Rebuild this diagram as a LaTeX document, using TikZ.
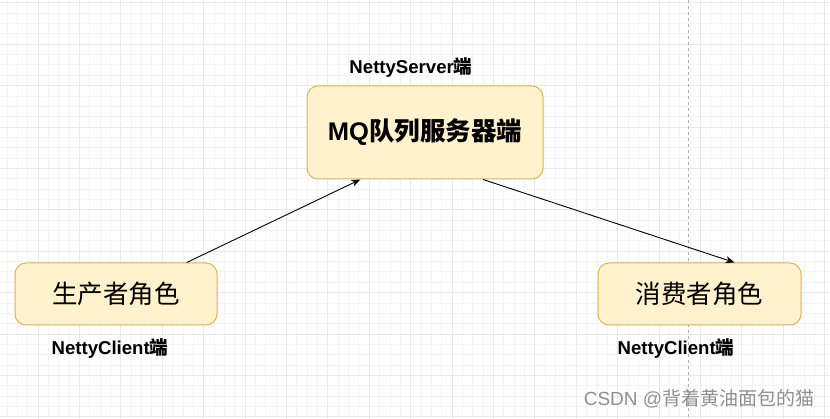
\documentclass[tikz,border=0pt]{standalone}
\usepackage{fontspec}
\setmainfont{Liberation Sans}
\newfontfamily\cjk{Noto Sans CJK SC}
\usetikzlibrary{arrows.meta}
\definecolor{boxfill}{HTML}{FFF2CC}
\definecolor{boxline}{HTML}{D6B656}
\definecolor{gridminor}{HTML}{F4F4F4}
\definecolor{gridmajor}{HTML}{E8E8E8}
\definecolor{guide}{HTML}{B0B0B0}
\definecolor{mark}{HTML}{8F8F8F}
\begin{document}
\begin{tikzpicture}[x=1pt,y=-1pt,
  rolebox/.style={draw=boxline, fill=boxfill, rounded corners=11pt, line width=1pt, inner sep=0pt},
  link/.style={draw=black, line width=0.9pt, -{Stealth[length=9pt,width=7pt]}},
  caption/.style={font=\fontsize{18.6}{21}\selectfont\bfseries, inner sep=0pt}]
\useasboundingbox (0,0) rectangle (830,419);
\fill[white] (0,0) rectangle (830,419);
\begin{scope}
  \clip (0,0) rectangle (830,419);
  \foreach \i in {0,...,82} \draw[gridminor, line width=0.8pt] ({-3.4+10.35*\i},0) -- ++(0,419);
  \foreach \j in {0,...,41} \draw[gridminor, line width=0.8pt] (0,{2.8+10.35*\j}) -- ++(830,0);
  \foreach \i in {0,...,20} \draw[gridmajor, line width=0.9pt] ({-3.4+41.4*\i},0) -- ++(0,419);
  \foreach \j in {0,...,10} \draw[gridmajor, line width=0.9pt] (0,{2.8+41.4*\j}) -- ++(830,0);
  \draw[guide, line width=0.8pt, dash pattern=on 3pt off 3pt] (688.7,0) -- (688.7,419);
\end{scope}

\node[rolebox, minimum width=236pt, minimum height=93pt] (mq) at (425,132.5)
  {\fontsize{25.5}{29}\selectfont\bfseries MQ{\cjk 队列服务器端}};
\node[rolebox, minimum width=202pt, minimum height=62pt] (prod) at (116,294)
  {\fontsize{25.5}{29}\selectfont\cjk 生产者角色};
\node[rolebox, minimum width=203pt, minimum height=62pt] (cons) at (699.5,294)
  {\fontsize{25.5}{29}\selectfont\cjk 消费者角色};

\node[caption] (servercap) at (411,68) {NettyServer{\cjk 端}};
\node[caption] (prodcap) at (110,349) {NettyClient{\cjk 端}};
\node[caption] (conscap) at (676,349) {NettyClient{\cjk 端}};

\draw[link] (prod.24.8) -- (mq.216);
\draw[link] (mq.321.2) -- (cons.42.8);

\node[text=mark, inner sep=0pt, font=\fontsize{19}{22}\selectfont] (wm) at (699,399)
  {CSDN @{\cjk 背着黄油面包的猫}};
\end{tikzpicture}
\end{document}
